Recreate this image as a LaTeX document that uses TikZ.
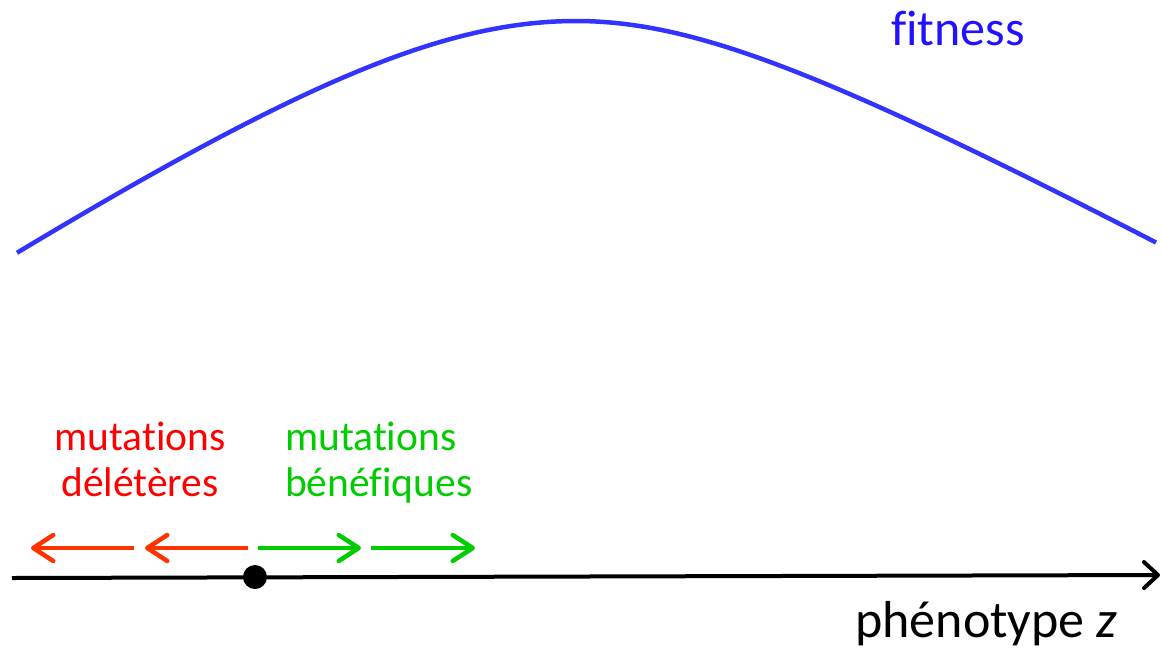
\documentclass[tikz,border=0pt]{standalone}
\usepackage{fontspec}
\setmainfont{Carlito}[Ligatures=NoCommon]
\usetikzlibrary{arrows.meta}
\definecolor{curveblue}{RGB}{51,51,255}
\definecolor{fitblue}{RGB}{34,17,255}
\definecolor{delred}{RGB}{255,0,0}
\definecolor{arrred}{RGB}{255,51,0}
\definecolor{bengreen}{RGB}{0,204,0}
\tikzset{
  lbl/.style={inner sep=0pt, font=\fontsize{41.5}{46}\selectfont},
  mutarrow/.style={line width=4.5pt, -{Straight Barb[length=20pt,width=26pt,line cap=round,line join=round]}},
}
\begin{document}
\begin{tikzpicture}[x=1pt,y=-1pt]
\useasboundingbox (0,0) rectangle (1162,654);
% fitness curve
\draw[curveblue, line width=4.5pt, line join=round]
  plot[domain=-559:0, samples=90] ({576+\x},{21+188*(sqrt(1+(\x/280)^2)-1)})
  -- plot[domain=0:580, samples=90] ({576+\x},{21+118*(sqrt(1+(\x/215)^2)-1)});
\node[inner sep=0pt, anchor=base west, text=fitblue, font=\fontsize{50}{56}\selectfont] (fit) at (891,45) {fitness};
% axis
\coordinate (ax0) at (12,578);
\coordinate (ax1) at (1160,575);
\draw[line width=4pt, -{Straight Barb[length=14pt,width=26pt,line cap=round,line join=round]}] (ax0) -- (ax1);
\node[circle, fill=black, minimum size=24pt, inner sep=0pt] (dot) at (255,577) {};
\node[inner sep=0pt, anchor=base west, font=\fontsize{52}{56}\selectfont] (pheno) at (855,637) {phénotype \textit{z}};
% mutation arrows
\coordinate (r1s) at (134,548); \coordinate (r1e) at (31,548);
\coordinate (r2s) at (248,548); \coordinate (r2e) at (145,548);
\coordinate (g1s) at (258,548); \coordinate (g1e) at (361,548);
\coordinate (g2s) at (371,548); \coordinate (g2e) at (475,548);
\draw[mutarrow, arrred] (r1s) -- (r1e);
\draw[mutarrow, arrred] (r2s) -- (r2e);
\draw[mutarrow, bengreen] (g1s) -- (g1e);
\draw[mutarrow, bengreen] (g2s) -- (g2e);
% labels (anchor base = baseline of last line)
\node[lbl, anchor=base, text=delred, align=center] (del) at (140,496) {mutations\\délétères};
\node[lbl, anchor=base west, text=bengreen, align=left] (ben) at (285,496) {mutations\\bénéfiques};
\end{tikzpicture}
\end{document}
